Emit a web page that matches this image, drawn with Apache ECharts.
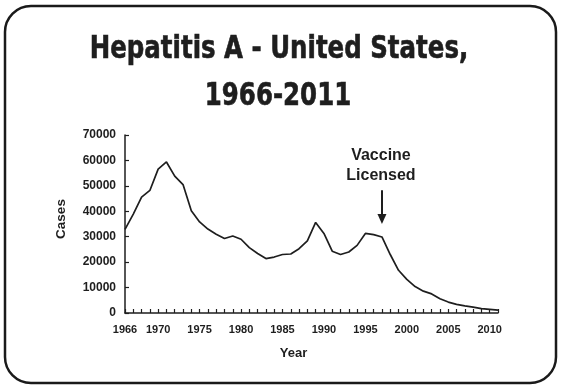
<!DOCTYPE html>
<html><head><meta charset="utf-8">
<script src="https://cdn.jsdelivr.net/npm/echarts@6/dist/echarts.min.js"></script>
<style>html,body{margin:0;padding:0;background:#fff}#c{width:562px;height:389px}</style>
</head><body><div id="c"></div>
<script>
var years = [];
for (var y = 1966; y <= 2011; y++) years.push(String(y));
var cases = [32900, 38900, 45600, 48200, 56600, 59400, 53800, 50500, 40200, 35800,
  33000, 31000, 29300, 30300, 29000, 25700, 23400, 21400, 22000, 23000,
  23200, 25300, 28400, 35600, 31300, 24300, 23000, 24000, 26600, 31300,
  30800, 29900, 23000, 16800, 13200, 10400, 8600, 7500, 5600, 4300,
  3400, 2800, 2300, 1700, 1400, 1100];
var yTicks = [0, 10000, 20000, 30000, 40000, 50000, 60000, 70000];
var titleLines = ['Hepatitis A - United States,', '1966-2011'];
var annotation = ['Vaccine', 'Licensed'];
var annotationYear = '1997';

var chart = echarts.init(document.getElementById('c'));
var txt = '#1e1e1e';
var lab = 'Liberation Sans, Arial, sans-serif';
var titleFont = '"DejaVu Sans Condensed","DejaVu Sans",sans-serif';
chart.setOption({
  animation: false,
  grid: {left: 125, right: 64, top: 135, bottom: 76},
  xAxis: {
    type: 'category', data: years, boundaryGap: false,
    name: 'Year', nameLocation: 'middle', nameGap: 34,
    nameTextStyle: {fontFamily: lab, fontWeight: 'bold', fontSize: 13, color: txt, padding: [0, 36, 0, 0]},
    axisLine: {lineStyle: {color: txt, width: 1.5}},
    axisTick: {inside: true, length: 4, interval: 0, lineStyle: {color: txt, width: 1.2}},
    axisLabel: {
      interval: function (i, v) { return v === '1966' || (+v % 5 === 0); },
      margin: 11, fontFamily: lab, fontWeight: 'bold', fontSize: 11, color: txt
    },
    splitLine: {show: false}
  },
  yAxis: {
    type: 'value', min: yTicks[0], max: yTicks[yTicks.length - 1], interval: 10000,
    name: 'Cases', nameLocation: 'middle', nameGap: 57, nameRotate: 90,
    nameTextStyle: {fontFamily: lab, fontWeight: 'bold', fontSize: 13.5, color: txt, padding: [0, 0, 0, 10]},
    axisLine: {show: true, lineStyle: {color: txt, width: 1.5}},
    axisTick: {show: true, inside: true, length: 4, lineStyle: {color: txt, width: 1.2}},
    axisLabel: {margin: 9, fontFamily: lab, fontWeight: 'bold', fontSize: 12, color: txt,
      formatter: function (v) { return String(v); }},
    splitLine: {show: false}
  },
  series: [{
    type: 'line', data: cases, symbol: 'none',
    lineStyle: {color: txt, width: 1.7},
    markLine: {
      silent: true, symbol: ['none', 'triangle'], symbolSize: [9, 10],
      lineStyle: {color: txt, width: 2, type: 'solid'},
      label: {show: false},
      data: [[{coord: [annotationYear, 48300]}, {coord: [annotationYear, 37000]}]]
    }
  }]
});
var p = chart.convertToPixel({gridIndex: 0}, [annotationYear, 48300]);
chart.setOption({
  graphic: [{
    type: 'rect', shape: {x: 5, y: 6, width: 551, height: 377, r: 26},
    style: {fill: 'none', stroke: '#1a1a1a', lineWidth: 2.5}, silent: true
  }, {
    type: 'text', x: 279, y: 50, scaleX: 0.85,
    style: {text: titleLines[0], align: 'center', verticalAlign: 'middle',
      fontFamily: titleFont, fontWeight: 'bold', fontSize: 32, fill: txt, stroke: txt, lineWidth: 0.6}
  }, {
    type: 'text', x: 278, y: 96.5, scaleX: 0.85,
    style: {text: titleLines[1], align: 'center', verticalAlign: 'middle',
      fontFamily: titleFont, fontWeight: 'bold', fontSize: 32, fill: txt, stroke: txt, lineWidth: 0.6}
  }, {
    type: 'text', x: p[0] - 1, y: p[1] - 5,
    style: {text: annotation.join('\n'), align: 'center', verticalAlign: 'bottom',
      fontFamily: lab, fontWeight: 'bold', fontSize: 16, lineHeight: 20, fill: txt}
  }]
});
</script></body></html>
